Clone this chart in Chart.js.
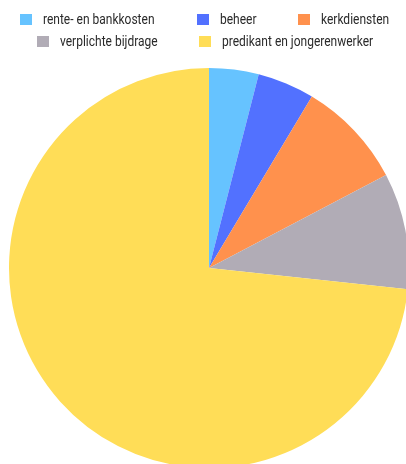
<!DOCTYPE html>
<html>
<head>
<meta charset="utf-8">
<script src="https://cdn.jsdelivr.net/npm/chart.js@4/dist/chart.umd.min.js"></script>
<style>
  html, body { margin: 0; padding: 0; background: #fff; overflow: hidden; width: 406px; height: 464px; }
  #wrap { position: relative; width: 406px; height: 464px; overflow: hidden; }
  #c { position: absolute; left: 0; top: 0; }
  #legend { position: absolute; left: 0; top: 10px; width: 410px; display: flex; flex-wrap: wrap; justify-content: center; column-gap: 42px; row-gap: 4px;
    font-family: Roboto, "Liberation Sans", sans-serif; font-size: 15px; color: #2a2a2a; line-height: 18px; }
  .item { display: flex; align-items: center; white-space: nowrap; }
  .box { width: 12px; height: 11px; margin-right: 11px; flex: none; }
  .tw { display: inline-block; overflow: visible; height: 18px; }
  .tx { display: inline-block; transform-origin: 0 50%; }
</style>
</head>
<body>
<div id="wrap">
  <canvas id="c" width="412" height="470"></canvas>
  <div id="legend"></div>
</div>
<script>
const categories = ["rente- en bankkosten", "beheer", "kerkdiensten", "verplichte bijdrage", "predikant en jongerenwerker"];
const values = [4.0, 4.6, 8.7, 9.4, 73.3];
const colors = ["#66C3FF", "#5271FF", "#FF914D", "#B1ACB6", "#FFDD57"];
const condense = 0.8;

const chart = new Chart(document.getElementById('c'), {
  type: 'pie',
  data: {
    labels: categories,
    datasets: [{ data: values, backgroundColor: colors, borderWidth: 0 }]
  },
  options: {
    responsive: false,
    animation: false,
    layout: { padding: { top: 68, bottom: 2, left: 9, right: 3 } },
    plugins: {
      legend: { display: false },
      tooltip: { enabled: false }
    }
  }
});

const legendEl = document.getElementById('legend');
const items = Chart.overrides.pie.plugins.legend.labels.generateLabels(chart);
items.forEach(it => {
  const d = document.createElement('div');
  d.className = 'item';
  const b = document.createElement('span');
  b.className = 'box';
  b.style.background = it.fillStyle;
  const w = document.createElement('span');
  w.className = 'tw';
  const t = document.createElement('span');
  t.className = 'tx';
  t.textContent = it.text;
  w.appendChild(t);
  d.appendChild(b); d.appendChild(w);
  legendEl.appendChild(d);
});
document.querySelectorAll('.tx').forEach(t => {
  const wd = t.getBoundingClientRect().width;
  t.style.transform = 'scaleX(' + condense + ')';
  t.parentNode.style.width = (wd * condense) + 'px';
});
</script>
</body>
</html>
